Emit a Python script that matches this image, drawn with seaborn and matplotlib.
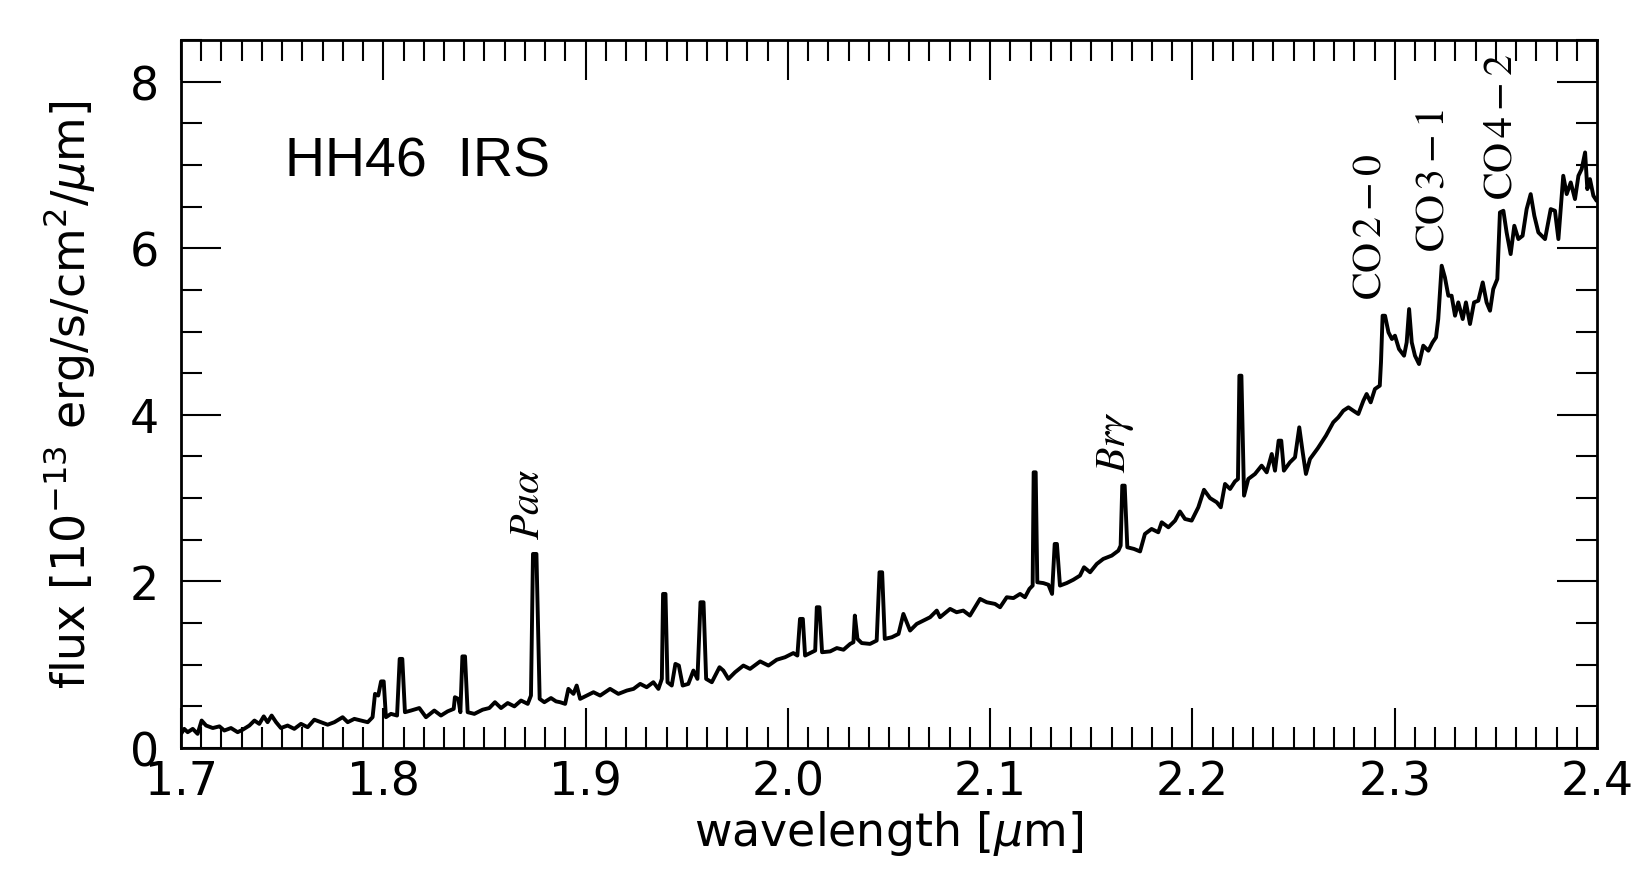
import numpy as np
import pandas as pd
import seaborn as sns
import matplotlib
matplotlib.use('Agg')
import matplotlib.pyplot as plt
from matplotlib.ticker import MultipleLocator

# spectrum, wavelength in micron, flux in 1e-13 erg/s/cm2/um
wave_a = [1.7000, 1.7016, 1.7033, 1.7058, 1.7082, 1.7102, 1.7124, 1.7157, 1.7190, 1.7214,
          1.7247, 1.7280, 1.7305, 1.7338, 1.7363, 1.7387, 1.7409, 1.7428, 1.7448, 1.7470,
          1.7494, 1.7527, 1.7560, 1.7593, 1.7626, 1.7659, 1.7692, 1.7725, 1.7758, 1.7799,
          1.7824, 1.7857, 1.7890, 1.7923, 1.7947, 1.7959, 1.7975, 1.7989, 1.8002, 1.8013,
          1.8038, 1.8068, 1.8081, 1.8094, 1.8107, 1.8137, 1.8178, 1.8211, 1.8252, 1.8285,
          1.8318, 1.8348, 1.8354, 1.8371, 1.8381, 1.8391, 1.8404, 1.8417, 1.8450, 1.8491,
          1.8524, 1.8552, 1.8582, 1.8615, 1.8648, 1.8681, 1.8714, 1.8730, 1.8740, 1.8757,
          1.8773, 1.8796, 1.8829, 1.8854]
flux_a = [0.17, 0.23, 0.19, 0.23, 0.17, 0.33, 0.27, 0.24, 0.26, 0.21,
          0.24, 0.19, 0.22, 0.27, 0.33, 0.29, 0.38, 0.31, 0.39, 0.31,
          0.24, 0.27, 0.23, 0.29, 0.25, 0.34, 0.31, 0.28, 0.31, 0.37,
          0.31, 0.35, 0.33, 0.31, 0.37, 0.65, 0.63, 0.80, 0.80, 0.37,
          0.41, 0.39, 1.07, 1.07, 0.43, 0.45, 0.48, 0.37, 0.45, 0.39,
          0.44, 0.47, 0.61, 0.59, 0.43, 1.10, 1.10, 0.43, 0.41, 0.46,
          0.48, 0.55, 0.48, 0.54, 0.50, 0.57, 0.53, 0.63, 2.33, 2.33,
          0.59, 0.55, 0.60, 0.56]

wave_b = [1.8874, 1.8899, 1.8915, 1.8940, 1.8956, 1.8973, 1.9006, 1.9039, 1.9072, 1.9121,
          1.9162, 1.9204, 1.9237, 1.9270, 1.9302, 1.9335, 1.9360, 1.9377, 1.9383, 1.9395,
          1.9405, 1.9426, 1.9444, 1.9461, 1.9480, 1.9508, 1.9533, 1.9553, 1.9568, 1.9583,
          1.9596, 1.9624, 1.9662, 1.9681, 1.9706, 1.9739, 1.9780, 1.9813, 1.9863, 1.9904,
          1.9945, 1.9986, 2.0027, 2.0047, 2.0060, 2.0074, 2.0085, 2.0118, 2.0135, 2.0143,
          2.0156, 2.0169, 2.0209, 2.0242, 2.0275, 2.0308, 2.0324, 2.0331, 2.0344, 2.0365,
          2.0406, 2.0439, 2.0453, 2.0466, 2.0479, 2.0514, 2.0547, 2.0571, 2.0604, 2.0637,
          2.0670, 2.0703, 2.0736]
flux_b = [0.55, 0.53, 0.71, 0.65, 0.75, 0.59, 0.63, 0.67, 0.63, 0.71,
          0.65, 0.69, 0.71, 0.77, 0.73, 0.79, 0.71, 0.83, 1.85, 1.85,
          0.79, 0.75, 1.01, 0.99, 0.75, 0.77, 0.93, 0.83, 1.75, 1.75,
          0.83, 0.79, 0.97, 0.93, 0.83, 0.91, 0.99, 0.95, 1.04, 0.99,
          1.06, 1.09, 1.14, 1.11, 1.55, 1.55, 1.11, 1.15, 1.17, 1.69,
          1.69, 1.15, 1.16, 1.20, 1.18, 1.25, 1.27, 1.59, 1.31, 1.26,
          1.25, 1.29, 2.11, 2.11, 1.31, 1.33, 1.37, 1.61, 1.41, 1.49,
          1.53, 1.57, 1.65]

wave_c = [2.0752, 2.0802, 2.0834, 2.0867, 2.0900, 2.0950, 2.0983, 2.1024, 2.1049, 2.1082,
          2.1115, 2.1148, 2.1172, 2.1194, 2.1210, 2.1215, 2.1225, 2.1233, 2.1263, 2.1288,
          2.1306, 2.1319, 2.1330, 2.1345, 2.1378, 2.1411, 2.1444, 2.1464, 2.1494, 2.1527,
          2.1559, 2.1601, 2.1634, 2.1645, 2.1653, 2.1665, 2.1678, 2.1711, 2.1741, 2.1765,
          2.1798, 2.1831, 2.1848, 2.1881, 2.1914, 2.1938, 2.1963, 2.1996, 2.2029, 2.2057,
          2.2087, 2.2120, 2.2140, 2.2161, 2.2186, 2.2210, 2.2225, 2.2232, 2.2242, 2.2255,
          2.2276, 2.2309, 2.2342, 2.2367, 2.2392, 2.2408, 2.2426, 2.2439, 2.2452, 2.2482,
          2.2507, 2.2528, 2.2545, 2.2561, 2.2581, 2.2620, 2.2660]
flux_c = [1.57, 1.67, 1.63, 1.65, 1.59, 1.79, 1.75, 1.73, 1.69, 1.81,
          1.80, 1.85, 1.81, 1.91, 1.95, 3.31, 3.31, 1.99, 1.98, 1.96,
          1.85, 2.45, 2.45, 1.95, 1.98, 2.02, 2.07, 2.17, 2.11, 2.21,
          2.27, 2.31, 2.37, 2.43, 3.15, 3.15, 2.41, 2.39, 2.36, 2.57,
          2.63, 2.59, 2.71, 2.65, 2.73, 2.84, 2.75, 2.73, 2.89, 3.10,
          3.00, 2.95, 2.89, 3.17, 3.11, 3.20, 3.23, 4.47, 4.47, 3.03,
          3.23, 3.29, 3.39, 3.31, 3.53, 3.33, 3.69, 3.69, 3.33, 3.43,
          3.49, 3.85, 3.55, 3.29, 3.47, 3.60, 3.75]

wave_d = [2.2696, 2.2721, 2.2746, 2.2771, 2.2795, 2.2820, 2.2845, 2.2861, 2.2881, 2.2902,
          2.2926, 2.2932, 2.2940, 2.2952, 2.2969, 2.2986, 2.3001, 2.3021, 2.3046, 2.3059,
          2.3071, 2.3084, 2.3100, 2.3120, 2.3141, 2.3166, 2.3187, 2.3204, 2.3215, 2.3232,
          2.3248, 2.3265, 2.3281, 2.3298, 2.3314, 2.3336, 2.3352, 2.3372, 2.3392, 2.3413,
          2.3435, 2.3454, 2.3471, 2.3487, 2.3507, 2.3520, 2.3537, 2.3553, 2.3573, 2.3591,
          2.3611, 2.3632, 2.3652, 2.3672, 2.3690, 2.3710, 2.3743, 2.3771, 2.3792, 2.3809,
          2.3833, 2.3850, 2.3870, 2.3891, 2.3908, 2.3924, 2.3941, 2.3952, 2.3965, 2.3982,
          2.3998]
flux_d = [3.91, 3.97, 4.05, 4.09, 4.05, 4.01, 4.17, 4.25, 4.15, 4.31,
          4.35, 4.63, 5.19, 5.19, 4.99, 4.91, 4.95, 4.79, 4.71, 4.87,
          5.27, 4.87, 4.71, 4.61, 4.83, 4.77, 4.87, 4.93, 5.15, 5.79,
          5.65, 5.43, 5.43, 5.19, 5.35, 5.15, 5.35, 5.09, 5.35, 5.37,
          5.59, 5.35, 5.25, 5.51, 5.63, 6.43, 6.45, 6.19, 5.93, 6.27,
          6.11, 6.15, 6.47, 6.65, 6.39, 6.19, 6.11, 6.47, 6.45, 6.11,
          6.87, 6.65, 6.79, 6.59, 6.87, 6.95, 7.15, 6.71, 6.83, 6.63,
          6.57]

# line labels: text, wavelength, flux at bottom of the text
line_names = [r'$Pa\alpha$', r'$Br\gamma$', r'$\mathrm{CO}\,2-0$', r'$\mathrm{CO}\,3-1$', r'$\mathrm{CO}\,4-2$']
line_wave = [1.871, 2.1617, 2.2868, 2.3184, 2.352]
line_flux = [2.51, 3.31, 5.39, 5.97, 6.59]

df = pd.DataFrame({'wavelength': wave_a + wave_b + wave_c + wave_d,
                   'flux': flux_a + flux_b + flux_c + flux_d})

sns.set_style('ticks')
plt.rcParams['font.family'] = ['DejaVu Sans']
plt.rcParams['text.color'] = 'black'
plt.rcParams['axes.labelcolor'] = 'black'
plt.rcParams['xtick.color'] = 'black'
plt.rcParams['ytick.color'] = 'black'

fig = plt.figure(figsize=(16.5, 8.78), dpi=100)
ax = fig.add_axes([0.1097, 0.1469, 0.8582, 0.8064])

sns.lineplot(data=df, x='wavelength', y='flux', color='black', lw=2.8,
             sort=False, estimator=None, ax=ax)

ax.set_xlim(1.7, 2.4)
ax.set_ylim(0, 8.5)
ax.xaxis.set_major_locator(MultipleLocator(0.1))
ax.xaxis.set_minor_locator(MultipleLocator(0.01))
ax.yaxis.set_major_locator(MultipleLocator(2))
ax.yaxis.set_minor_locator(MultipleLocator(0.5))
ax.tick_params(which='both', direction='in', top=True, right=True, width=1.5,
               color='black', labelcolor='black')
ax.tick_params(which='major', length=29)
ax.tick_params(which='minor', length=15)
ax.tick_params(axis='x', which='major', labelsize=33, pad=8)
ax.tick_params(axis='y', which='major', labelsize=33, pad=16)
for s in ax.spines.values():
    s.set_linewidth(2)
    s.set_color('black')

ax.set_xlabel(r'wavelength [$\mu$m]', fontsize=33, color='black')
ax.set_ylabel(r'flux [10$^{-13}$ erg/s/cm$^2$/$\mu$m]', fontsize=33, color='black')
ax.xaxis.set_label_coords(0.5, -0.085)
ax.yaxis.set_label_coords(-0.059, 0.5)

ax.text(1.7514, 6.87, 'HH46  IRS', fontsize=40, family='Liberation Sans',
        va='baseline', ha='left', color='black')

for name, w, f in zip(line_names, line_wave, line_flux):
    ax.text(w, f, name, rotation=90, ha='center', va='bottom', fontsize=30,
            math_fontfamily='stix', color='black')

fig.savefig('out.png', dpi=100)
